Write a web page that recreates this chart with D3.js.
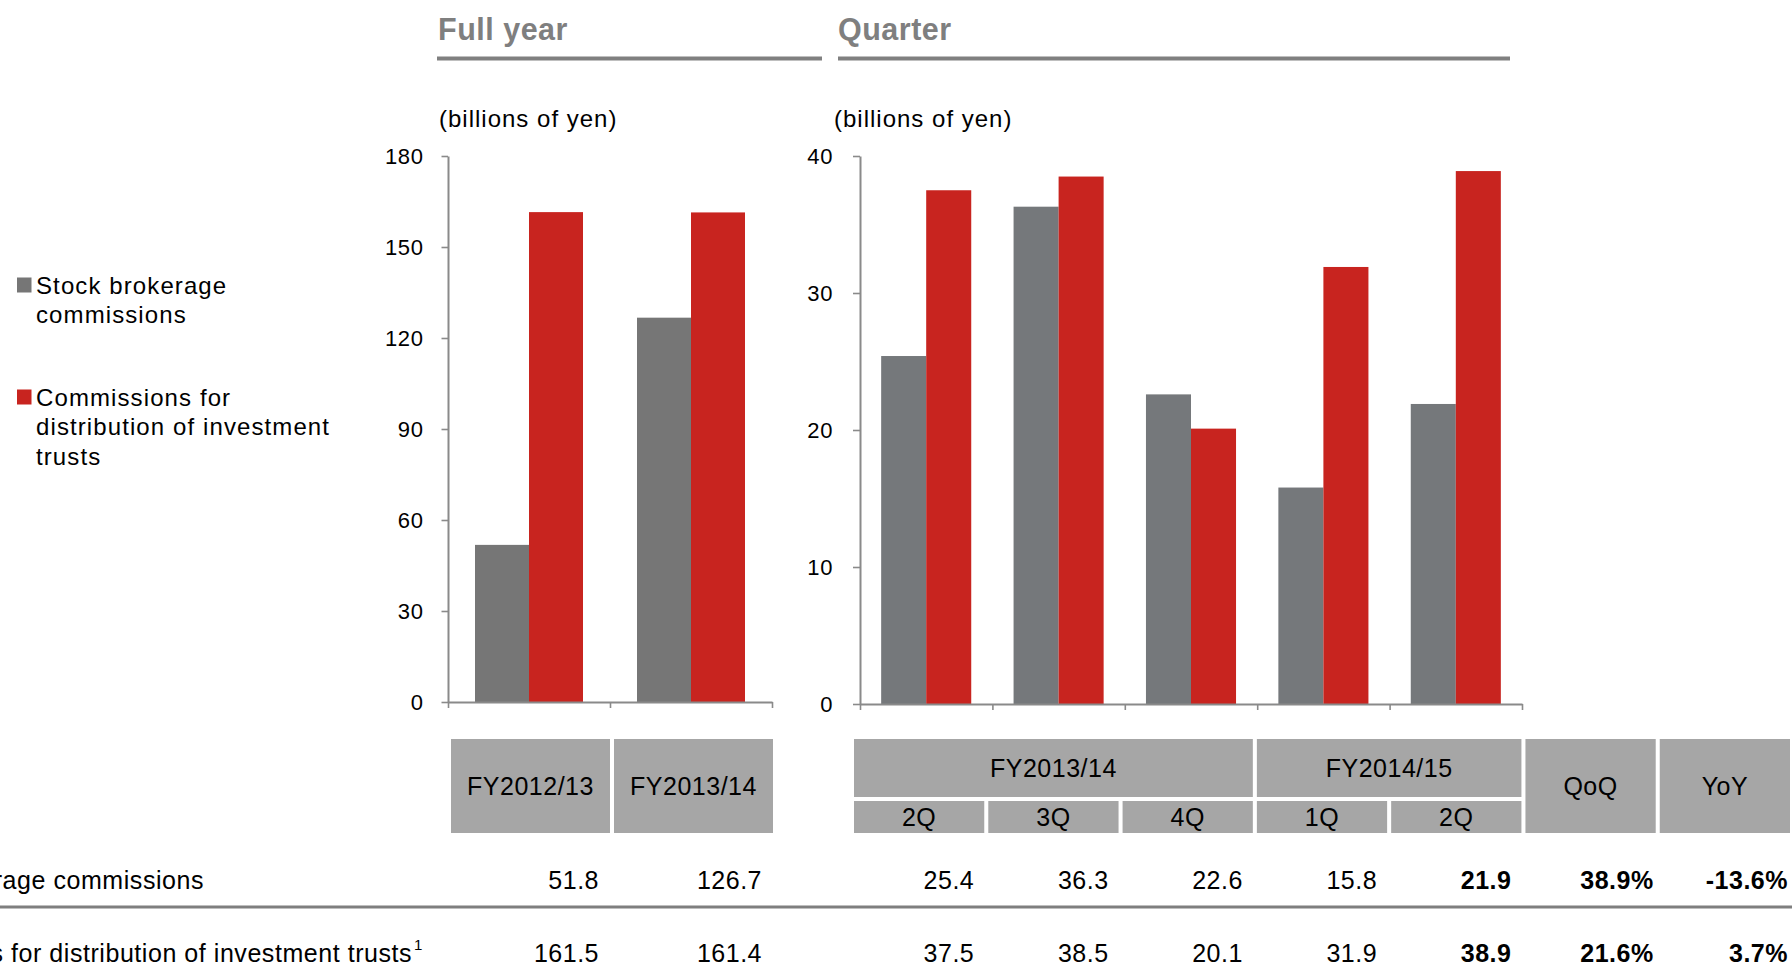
<!DOCTYPE html>
<html><head><meta charset="utf-8">
<script src="https://cdn.jsdelivr.net/npm/d3@7"></script>
<style>
html,body{margin:0;padding:0;background:#fff;overflow:hidden}
svg{display:block;font-family:"Liberation Sans",Arial,sans-serif}
</style></head><body>
<svg id="c" width="1792" height="975"></svg>
<script>
// ---------- data ----------
const seriesKeys = ["brokerage","trusts"];
const rowLabels = ["Stock brokerage commissions","Commissions for distribution of investment trusts"];
const rowFootnotes = ["","1"];
const fullYearCats = ["FY2012/13","FY2013/14"];
const fullBrokerage = [51.8,126.7];
const fullTrusts = [161.5,161.4];
const quarterKeys = ["FY2013/14 2Q","FY2013/14 3Q","FY2013/14 4Q","FY2014/15 1Q","FY2014/15 2Q"];
const quarterLabels = ["2Q","3Q","4Q","1Q","2Q"];
const fiscalGroups = ["FY2013/14","FY2014/15"];
const fiscalGroupSpans = [3,2];
const qBrokerage = [25.4,36.3,22.6,15.8,21.9];
const qTrusts = [37.5,38.5,20.1,31.9,38.9];
const changeCols = ["QoQ","YoY"];
const brokerageChange = ["38.9%","-13.6%"];
const trustsChange = ["21.6%","3.7%"];
const fullTicks = [0,30,60,90,120,150,180];
const quarterTicks = [0,10,20,30,40];
const sectionTitles = ["Full year","Quarter"];
const unitLabel = "(billions of yen)";
const legendLines = [["Stock brokerage","commissions"],["Commissions for","distribution of investment","trusts"]];

// ---------- styles ----------
const RED = "#c8241f", GRAY_F = "#767676", GRAY_Q = "#75787b", BOX = "#a6a6a6", AXIS = "#8a8a8a", TITLE = "#7f7f7f";
const svg = d3.select("#c");

// ---------- section titles ----------
const titleX = [438, 838], ulX = [[437,822],[838,1510]];
sectionTitles.forEach((t,i)=>{
  svg.append("text").attr("x",titleX[i]).attr("y",40).text(t)
    .attr("font-size",30.5).attr("font-weight","bold").attr("fill",TITLE).attr("letter-spacing","0.5px");
  svg.append("line").attr("x1",ulX[i][0]).attr("x2",ulX[i][1]).attr("y1",58.5).attr("y2",58.5)
    .attr("stroke","#808080").attr("stroke-width",4);
});
[439,834].forEach(x=>{
  svg.append("text").attr("x",x).attr("y",127).text(unitLabel)
    .attr("font-size",24).attr("letter-spacing","1px").attr("fill","#000");
});

// ---------- legend ----------
const legColors = [GRAY_F, RED];
const legTop = [277.5, 389.5];
legendLines.forEach((lines,i)=>{
  svg.append("rect").attr("x",17).attr("y",legTop[i]).attr("width",14.5).attr("height",15).attr("fill",legColors[i]);
  lines.forEach((l,j)=>{
    svg.append("text").attr("x",36).attr("y",legTop[i]+16+j*29.5).text(l)
      .attr("font-size",24).attr("letter-spacing","1.1px").attr("fill","#000");
  });
});

function styleAxis(g){
  g.attr("font-size",22).attr("font-family",null);
  g.select(".domain").attr("stroke",AXIS).attr("stroke-width",2);
  g.selectAll(".tick line").attr("stroke",AXIS).attr("stroke-width",1.6);
  g.selectAll(".tick text").attr("fill","#000").attr("letter-spacing","0.6px");
}

// ---------- full-year chart ----------
const yF = d3.scaleLinear().domain([0,180]).range([702,156]);
const xF = d3.scaleBand().domain(fullYearCats).range([448,772]).padding(0);
const xFi = d3.scaleBand().domain(seriesKeys).range([0,xF.bandwidth()]).paddingInner(0).paddingOuter(0.5);
const xFb = d3.scaleLinear().domain([0,fullYearCats.length]).range([448,772]);

const fullData = fullYearCats.map((c,i)=>({cat:c, brokerage:fullBrokerage[i], trusts:fullTrusts[i]}));
svg.append("g").selectAll("g.grp").data(fullData).join("g").attr("class","grp")
  .attr("transform",d=>`translate(${xF(d.cat)},0)`)
  .selectAll("rect").data(d=>seriesKeys.map(k=>({k, v:d[k]}))).join("rect")
  .attr("x",d=>xFi(d.k)).attr("width",xFi.bandwidth())
  .attr("y",d=>yF(d.v)).attr("height",d=>yF(0)-yF(d.v))
  .attr("fill",d=>d.k==="brokerage"?GRAY_F:RED);

svg.append("g").attr("transform","translate(0,702)")
  .call(d3.axisBottom(xFb).tickValues(d3.range(fullYearCats.length+1)).tickFormat("").tickSizeInner(6).tickSizeOuter(0))
  .call(styleAxis);
svg.append("g").attr("transform","translate(448,0)")
  .call(d3.axisLeft(yF).tickValues(fullTicks).tickSizeInner(6.5).tickSizeOuter(0).tickPadding(18))
  .call(styleAxis);

// ---------- quarter chart ----------
const yQ = d3.scaleLinear().domain([0,40]).range([704,156]);
const xQ = d3.scaleBand().domain(quarterKeys).range([860,1522]).padding(0);
const xQi = d3.scaleBand().domain(seriesKeys).range([0,xQ.bandwidth()]).paddingInner(0).paddingOuter(0.47);
const xQb = d3.scaleLinear().domain([0,quarterKeys.length]).range([860,1522]);

const qData = quarterKeys.map((c,i)=>({cat:c, brokerage:qBrokerage[i], trusts:qTrusts[i]}));
svg.append("g").selectAll("g.grp").data(qData).join("g").attr("class","grp")
  .attr("transform",d=>`translate(${xQ(d.cat)},0)`)
  .selectAll("rect").data(d=>seriesKeys.map(k=>({k, v:d[k]}))).join("rect")
  .attr("x",d=>xQi(d.k)).attr("width",xQi.bandwidth())
  .attr("y",d=>yQ(d.v)).attr("height",d=>yQ(0)-yQ(d.v))
  .attr("fill",d=>d.k==="brokerage"?GRAY_Q:RED);

svg.append("g").attr("transform","translate(0,704)")
  .call(d3.axisBottom(xQb).tickValues(d3.range(quarterKeys.length+1)).tickFormat("").tickSizeInner(6).tickSizeOuter(0))
  .call(styleAxis);
svg.append("g").attr("transform","translate(860,0)")
  .call(d3.axisLeft(yQ).tickValues(quarterTicks).tickSizeInner(7).tickSizeOuter(0).tickPadding(20))
  .call(styleAxis);

// ---------- table ----------
const TOP = 739, MID1 = 797, MID2 = 801, BOT = 833;
const colF = d3.scaleBand().domain(fullYearCats).range([451,773]).paddingInner(0.0245).paddingOuter(0);
const qCols = quarterKeys.concat(changeCols);
const colQ = d3.scaleBand().domain(qCols).range([854,1790]).paddingInner(0.03).paddingOuter(0);
const tbl = svg.append("g").attr("font-size",25).attr("letter-spacing","0.5px").attr("fill","#000");

function box(x,y,w,h,label,ty){
  tbl.append("rect").attr("x",x).attr("y",y).attr("width",w).attr("height",h).attr("fill",BOX);
  tbl.append("text").attr("x",x+w/2).attr("y",ty).attr("text-anchor","middle").text(label);
}
fullYearCats.forEach(c=>box(colF(c),TOP,colF.bandwidth(),BOT-TOP,c,(TOP+BOT)/2+9));
let start=0;
fiscalGroups.forEach((g,i)=>{
  const k0 = quarterKeys[start], k1 = quarterKeys[start+fiscalGroupSpans[i]-1];
  box(colQ(k0),TOP,colQ(k1)+colQ.bandwidth()-colQ(k0),MID1-TOP,g,(TOP+MID1)/2+9);
  start += fiscalGroupSpans[i];
});
quarterKeys.forEach((k,i)=>box(colQ(k),MID2,colQ.bandwidth(),BOT-MID2,quarterLabels[i],(MID2+BOT)/2+9));
changeCols.forEach(c=>box(colQ(c),TOP,colQ.bandwidth(),BOT-TOP,c,(TOP+BOT)/2+9));

// rows
const rowY = [889, 962];
const rowEnd = [204, 423];
const rows = [
  {full:fullBrokerage, q:qBrokerage, ch:brokerageChange},
  {full:fullTrusts, q:qTrusts, ch:trustsChange}
];
rows.forEach((r,i)=>{
  const t = tbl.append("text").attr("x",rowEnd[i]).attr("y",rowY[i]).attr("text-anchor","end")
    .attr("letter-spacing","0.55px");
  t.append("tspan").text(rowLabels[i]);
  if(rowFootnotes[i]){
    t.append("tspan").attr("font-size",15).attr("dy",-12).attr("dx",2).text(rowFootnotes[i]);
  }
  r.full.forEach((v,j)=>{
    tbl.append("text").attr("x",colF(fullYearCats[j])+colF.bandwidth()-11).attr("y",rowY[i])
      .attr("text-anchor","end").text(d3.format(".1f")(v));
  });
  r.q.forEach((v,j)=>{
    tbl.append("text").attr("x",colQ(quarterKeys[j])+colQ.bandwidth()-10).attr("y",rowY[i])
      .attr("text-anchor","end").attr("font-weight",j===quarterKeys.length-1?"bold":null)
      .text(d3.format(".1f")(v));
  });
  r.ch.forEach((v,j)=>{
    tbl.append("text").attr("x",colQ(changeCols[j])+colQ.bandwidth()-2).attr("y",rowY[i])
      .attr("text-anchor","end").attr("font-weight","bold").text(v);
  });
});
svg.append("line").attr("x1",0).attr("x2",1792).attr("y1",907).attr("y2",907)
  .attr("stroke","#7f7f7f").attr("stroke-width",3);
</script>
</body></html>
